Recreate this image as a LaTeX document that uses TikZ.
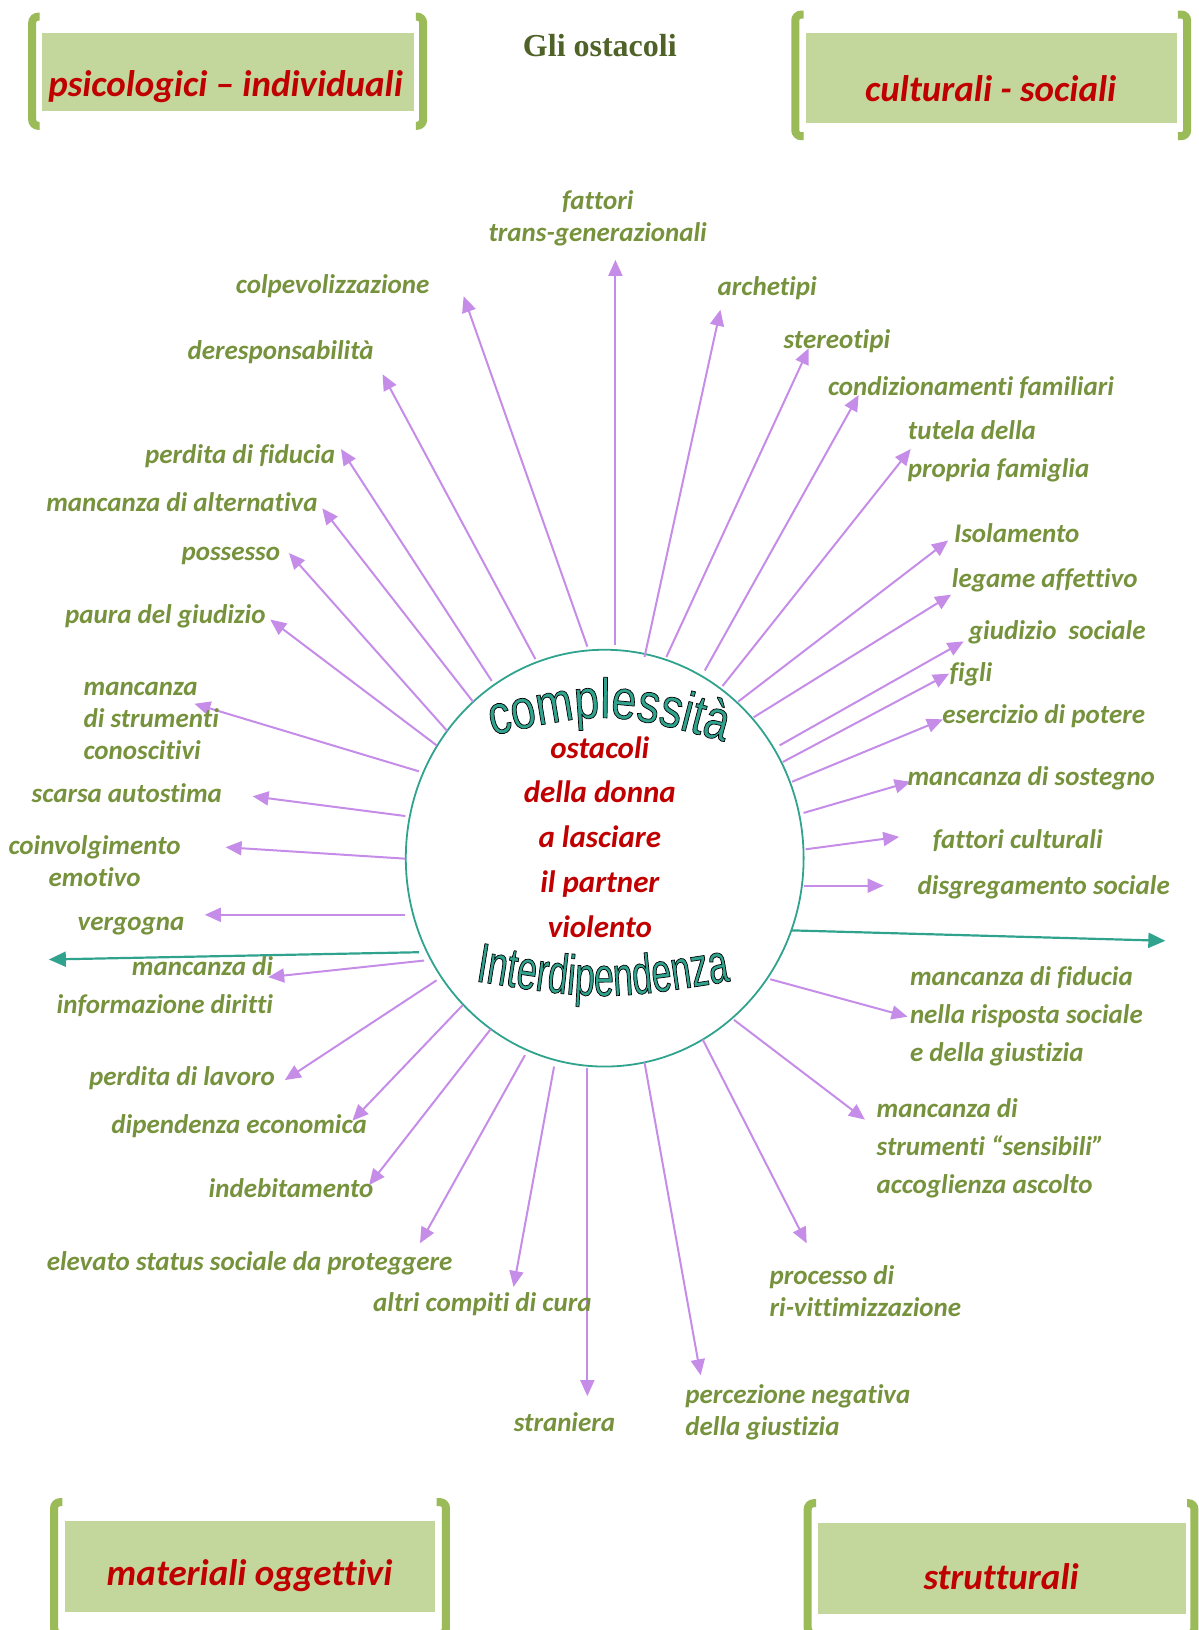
\documentclass[tikz,border=0pt]{standalone}
\usepackage{fontspec}
\usepackage{xcolor}
\usetikzlibrary{arrows.meta,shapes.geometric,decorations.text}

\newfontfamily\calfont[Ligatures={TeX,NoCommon}]{Carlito}
\newfontfamily\titfont{Liberation Serif}
\newfontfamily\arcfont[FakeStretch=0.8]{Liberation Sans}
\newfontfamily\smilefont[FakeStretch=0.64]{Liberation Sans}
\newcommand\outlined{\special{pdf:literal direct 0 0 0 RG 2 Tr 0.35 w}}

\definecolor{lilac}{HTML}{C58CE8}
\definecolor{tealc}{HTML}{2FA38E}
\definecolor{olive}{HTML}{76923C}
\definecolor{darkred}{HTML}{C00000}
\definecolor{boxfill}{HTML}{C3D69B}
\definecolor{brack}{HTML}{9BBB59}
\definecolor{titgreen}{HTML}{4F6228}

\begin{document}
\begin{tikzpicture}[x=0.52pt,y=-0.52pt]
\tikzset{
	obst/.style = {text=olive, inner sep=0, yshift=-1pt, font=\calfont\bfseries\itshape\fontsize{13.5}{16}\selectfont},
	cattext/.style = {text=darkred, inner sep=0, font=\calfont\bfseries\itshape\fontsize{18.5}{22}\selectfont},
	ray/.style = {draw=lilac, line width=1pt, -{Triangle[length=8pt,width=7pt]}},
	longray/.style = {draw=tealc, line width=1.1pt, -{Triangle[length=8.5pt,width=7.5pt]}},
	bracket/.style = {draw=brack, line width=4pt, rounded corners=3pt},
	arcword/.style = {decorate, decoration={text along path, text align=center,
		text={|\arcfont\fontsize{28}{28}\selectfont\color{tealc}\outlined|complessità}}},
	smileword/.style = {decorate, decoration={text along path, text align=center,
		text={|\smilefont\fontsize{28}{28}\selectfont\color{tealc}\outlined|Interdipendenza}}}
}
\useasboundingbox (0,0) rectangle (1153,1568);

% the four families of obstacles
\fill[boxfill] (40,32) rectangle (398,107);
\draw[bracket] (38,16) -- (31,16) -- (31,121) -- (38,121);
\draw[bracket] (400,16) -- (407,16) -- (407,121) -- (400,121);
\node[cattext] (psi) at (217,83) {psicologici – individuali};

\fill[boxfill] (775,32) rectangle (1132,118);
\draw[bracket] (773,14) -- (765,14) -- (765,131) -- (773,131);
\draw[bracket] (1133,14) -- (1142,14) -- (1142,131) -- (1133,131);
\node[cattext] (cult) at (953,85) {culturali - sociali};

\fill[boxfill] (63,1463) rectangle (418,1551);
\draw[bracket] (60,1445) -- (52,1445) -- (52,1572) -- (60,1572);
\draw[bracket] (420,1445) -- (429,1445) -- (429,1572) -- (420,1572);
\node[cattext] (mat) at (240,1516) {materiali oggettivi};

\fill[boxfill] (787,1465) rectangle (1141,1553);
\draw[bracket] (785,1446) -- (777,1446) -- (777,1572) -- (785,1572);
\draw[bracket] (1142,1446) -- (1149,1446) -- (1149,1572) -- (1142,1572);
\node[cattext] (strut) at (963,1517) {strutturali};

\node[text=titgreen, font=\titfont\bfseries\fontsize{16}{19}\selectfont] (title) at (577,44) {Gli ostacoli};

% centre
\node[ellipse, draw=tealc, line width=0.9pt, minimum width=199pt, minimum height=208.5pt, inner sep=0] (core) at (581.7,825.5) {};
\node[text=darkred, align=center, font=\calfont\bfseries\itshape\fontsize{15.5}{22.4}\selectfont] (donna) at (577,805)
	{ostacoli\\della donna\\a lasciare\\il partner\\violento};

% rays
\foreach \n/\sx/\sy/\ex/\ey in {tgen/592/620/592/250, arch/620/632/693/298, ster/641/632/778/335,
	cond/678/645/826/380, tut/695/660/876/432, iso/710/675/912/520, leg/725/690/915/572,
	giu/750/717/927/617, fig/753/733/913/648, ese/762/752/907/692, sos/773/782/876/752,
	cul/775/817/865/805, dis/773/852/850/852, fid/741/942/873/978, sens/706/981/832/1077,
	riv/676/1000/776/1196, perc/620/1022/674/1323, stra/565/1027/565/1343, cura/533/1026/494/1238,
	stat/505/1015/404/1196, ind/472/990/355/1140, dip/445/967/339/1078, lav/420/943/274/1039,
	inf/408/924/258/940, ver/390/880/197/880, coin/390/826/217/815, aut/390/785/243/766,
	con/403/742/187/677, pau/420/717/260/596, pos/430/703/278/532, alt/455/675/310/489,
	pfid/473/655/328/432, der/515/634/368/360, colp/565/622/446/285}{
	\coordinate (s-\n) at (\sx,\sy);
	\coordinate (e-\n) at (\ex,\ey);
	\draw[ray] (s-\n) -- (e-\n);
}
\coordinate (s-east) at (762,895);
\coordinate (e-east) at (1121,905);
\coordinate (s-west) at (403,916);
\coordinate (e-west) at (47,923);
\draw[longray] (s-east) -- (e-east);
\draw[longray] (s-west) -- (e-west);

% labels
\node[obst, align=center] (l-tgen) at (575,208) {fattori\\trans-generazionali};
\node[obst] (l-arch) at (738,275) {archetipi};
\node[obst] (l-ster) at (805,326) {stereotipi};
\node[obst] (l-cond) at (934,371) {condizionamenti familiari};
\node[obst, align=left, anchor=west] (l-tut) at (873,432) {tutela della\\[3pt]propria famiglia};
\node[obst] (l-iso) at (978,511) {Isolamento};
\node[obst] (l-leg) at (1005,556) {legame affettivo};
\node[obst] (l-giu) at (1017,606) {giudizio\ \ sociale};
\node[obst] (l-fig) at (934,647) {figli};
\node[obst] (l-ese) at (1004,687) {esercizio di potere};
\node[obst] (l-sos) at (992,747) {mancanza di sostegno};
\node[obst] (l-cul) at (979,807) {fattori culturali};
\node[obst] (l-dis) at (1004,852) {disgregamento sociale};
\node[obst, align=left, anchor=west] (l-fid) at (875,976) {mancanza di fiducia\\[3pt]nella risposta sociale\\[3pt]e della giustizia};
\node[obst, align=left, anchor=west] (l-sens) at (843,1103) {mancanza di\\[3pt]strumenti “sensibili”\\[3pt]accoglienza ascolto};
\node[obst, align=left, anchor=west] (l-riv) at (740,1240) {processo di\\ri-vittimizzazione};
\node[obst, align=left, anchor=west] (l-perc) at (659,1357) {percezione negativa\\della giustizia};
\node[obst] (l-stra) at (543,1366) {straniera};
\node[obst] (l-cura) at (464,1253) {altri compiti di cura};
\node[obst] (l-stat) at (240,1213) {elevato status sociale da proteggere};
\node[obst] (l-ind) at (280,1141) {indebitamento};
\node[obst] (l-dip) at (230,1081) {dipendenza economica};
\node[obst] (l-lav) at (175,1035) {perdita di lavoro};
\node[obst, align=right, anchor=east] (l-inf) at (263,947) {mancanza di\\[3pt]informazione diritti};
\node[obst] (l-ver) at (126,889) {vergogna};
\node[obst, align=center] (l-coin) at (91,826) {coinvolgimento\\emotivo};
\node[obst] (l-aut) at (122,761) {scarsa autostima};
\node[obst, align=left, anchor=west] (l-con) at (80,692) {mancanza\\di strumenti\\conoscitivi};
\node[obst] (l-pau) at (159,591) {paura del giudizio};
\node[obst] (l-pos) at (222,533) {possesso};
\node[obst] (l-alt) at (175,481) {mancanza di alternativa};
\node[obst] (l-pfid) at (231,437) {perdita di fiducia};
\node[obst] (l-der) at (270,337) {deresponsabilità};
\node[obst] (l-colp) at (320,273) {colpevolizzazione};

% word art, drawn last
\path[arcword] (450,713) .. controls (585,682) .. (720,720);
\path[smileword] (434,940) .. controls (580,964) .. (726,940);
\special{pdf:literal direct 0 Tr}

\end{tikzpicture}
\end{document}
